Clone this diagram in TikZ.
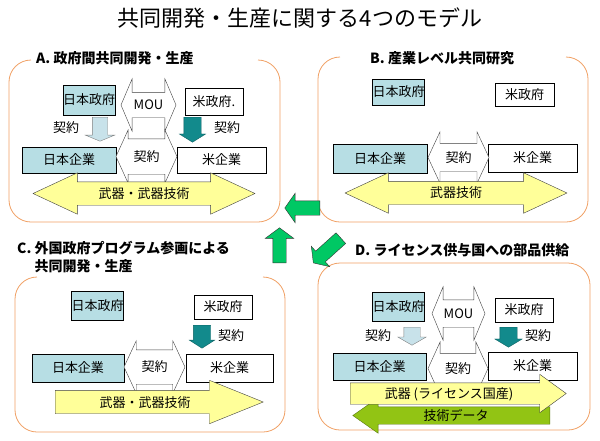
\documentclass[tikz,border=0pt]{standalone}
\usepackage{fontspec}
\setmainfont{Noto Sans CJK JP}
\usetikzlibrary{shapes.arrows}

\definecolor{jpBlue}{RGB}{183,222,228}
\definecolor{lightArrow}{RGB}{200,226,234}
\definecolor{darkTeal}{RGB}{18,138,140}
\definecolor{armsYellow}{RGB}{255,255,153}
\definecolor{techGreen}{RGB}{146,196,20}
\definecolor{panelOrange}{RGB}{240,160,100}
\definecolor{navGreen}{RGB}{0,200,100}

\begin{document}
\begin{tikzpicture}[x=1pt, y=-1pt, font=\fontsize{13pt}{15pt}\selectfont]
		\tikzstyle{jpBox} = [rectangle, draw=black, fill=jpBlue, text centered, inner sep=0pt]
		\tikzstyle{usBox} = [rectangle, draw=black, fill=white, text centered, inner sep=0pt]
		\tikzstyle{panel} = [draw=panelOrange, line width=0.8pt, rounded corners=22pt]
		\tikzstyle{panelTitle} = [anchor=west, inner sep=0pt, font=\bfseries\fontsize{14pt}{18pt}\selectfont]
		\tikzstyle{dblArrow} = [double arrow, draw=black!75, fill=white, inner xsep=0pt]
		\tikzstyle{armsArrow} = [draw=black!75, fill=armsYellow, inner xsep=0pt]
		\tikzstyle{downArrow} = [single arrow, anchor=tail, rotate=-90, inner xsep=0pt]
		\tikzstyle{lightDown} = [downArrow, fill=lightArrow, draw=gray]
		\tikzstyle{darkDown} = [downArrow, fill=darkTeal, draw=darkTeal!70!black]
		\tikzstyle{navArrow} = [single arrow, anchor=tail, draw=black!80, fill=navGreen, inner xsep=0pt, inner ysep=7pt, minimum height=35pt, single arrow head extend=7.5pt, single arrow tip angle=110]
		
		\useasboundingbox (0,0) rectangle (600,440);
		\node (title) [font=\fontsize{22pt}{26pt}\selectfont] at (300,18) {共同開発・生産に関する4つのモデル};
		
		% A
		\draw [panel] (31,60) -- (9,60) -- (9,222) -- (280,222) -- (280,60) -- (258,60);
		\node (titleA) [panelTitle] at (36,58) {A. 政府間共同開発・生産};
		\node (jpGovA) [jpBox, minimum width=52pt, minimum height=30pt] at (89,100) {日本政府};
		\node (usGovA) [usBox, minimum width=58pt, minimum height=27pt] at (214,101.5) {米政府.};
		\node (jpCorpA) [jpBox, minimum width=94pt, minimum height=26pt] at (69,160) {日本企業};
		\node (usCorpA) [usBox, minimum width=89pt, minimum height=26pt] at (221.5,160) {米企業};
		\node (mouA) [dblArrow, minimum height=55pt, inner ysep=12.5pt, double arrow head extend=13.5pt, double arrow tip angle=134] at (148.5,105) {};
		\node (dealA) [dblArrow, minimum height=61pt, inner ysep=17.5pt, double arrow head extend=9pt, double arrow tip angle=131] at (146.5,156.5) {};
		\node (armsA) [armsArrow, double arrow, minimum height=222pt, inner ysep=11.5pt, double arrow head extend=9pt, double arrow tip angle=50] at (144,193.5) {};
		\node (jpDownA) [lightDown, minimum height=24pt, inner ysep=7.5pt, single arrow head extend=7pt, single arrow tip angle=135] at (100,117) {};
		\node (usDownA) [darkDown, minimum height=25pt, inner ysep=8.5pt, single arrow head extend=4.5pt, single arrow tip angle=116] at (192.5,117) {};
		\node (mouTextA) at (mouA) {MOU};
		\node (dealTextA) at (dealA) {契約};
		\node (armsTextA) at (armsA) {武器・武器技術};
		\node (jpDealA) at (66,128) {契約};
		\node (usDealA) at (227,128) {契約};
		
		% B
		\draw [panel] (340,57) -- (318,57) -- (318,222) -- (588,222) -- (588,57) -- (566,57);
		\node (titleB) [panelTitle] at (370,58) {B.\ 産業レベル共同研究};
		\node (jpGovB) [jpBox, minimum width=51pt, minimum height=26pt] at (398.5,92) {日本政府};
		\node (usGovB) [usBox, minimum width=59pt, minimum height=23pt] at (524.5,94.5) {米政府};
		\node (jpCorpB) [jpBox, minimum width=94pt, minimum height=29pt] at (380,158.5) {日本企業};
		\node (usCorpB) [usBox, minimum width=89pt, minimum height=28pt] at (532.5,158) {米企業};
		\node (dealB) [dblArrow, minimum height=61pt, inner ysep=14pt, double arrow head extend=11.5pt, double arrow tip angle=130] at (458.5,157.5) {};
		\node (armsB) [armsArrow, double arrow, minimum height=222pt, inner ysep=11.5pt, double arrow head extend=8.5pt, double arrow tip angle=50] at (456,193) {};
		\node (dealTextB) at (dealB) {契約};
		\node (armsTextB) at (armsB) {武器技術};
		
		% C
		\draw [panel] (37,277) -- (15,277) -- (15,432) -- (285,432) -- (285,277) -- (263,277);
		\node (titleC) [panelTitle, align=left] at (17,257) {C. 外国政府プログラム参画による\\\phantom{C. }共同開発・生産};
		\node (jpGovC) [jpBox, minimum width=51pt, minimum height=29pt] at (97.5,305.5) {日本政府};
		\node (usGovC) [usBox, minimum width=58pt, minimum height=24pt] at (223,307) {米政府};
		\node (jpCorpC) [jpBox, minimum width=92pt, minimum height=28pt] at (78,368) {日本企業};
		\node (usCorpC) [usBox, minimum width=87pt, minimum height=28pt] at (229.5,368) {米企業};
		\node (dealC) [dblArrow, minimum height=61pt, inner ysep=17pt, double arrow head extend=9pt, double arrow tip angle=130] at (154.5,367) {};
		\node (usDownC) [darkDown, minimum height=23pt, inner ysep=8.5pt, single arrow head extend=4pt, single arrow tip angle=115] at (202,325) {};
		\node (armsC) [armsArrow, single arrow, anchor=tail, minimum height=208pt, inner ysep=11.5pt, single arrow head extend=10pt, single arrow tip angle=44] at (55,402) {};
		\node (dealTextC) at (dealC) {契約};
		\node (usDealC) at (231,336) {契約};
		\node (armsTextC) at (145,403) {武器・武器技術};
		
		% D
		\draw [panel] (318,263) rectangle (590,430);
		\node (titleD) [panelTitle] at (355,250) {D. ライセンス供与国への部品供給};
		\node (jpGovD) [jpBox, minimum width=51pt, minimum height=29pt] at (398.5,306.5) {日本政府};
		\node (usGovD) [usBox, minimum width=58pt, minimum height=24pt] at (524,310) {米政府};
		\node (jpCorpD) [jpBox, minimum width=93pt, minimum height=27pt] at (379.5,366.5) {日本企業};
		\node (usCorpD) [usBox, minimum width=89pt, minimum height=28pt] at (532.5,366) {米企業};
		\node (mouD) [dblArrow, minimum height=53pt, inner ysep=13.5pt, double arrow head extend=13pt, double arrow tip angle=135] at (458.5,313.5) {};
		\node (dealD) [dblArrow, minimum height=60pt, inner ysep=15pt, double arrow head extend=11.5pt, double arrow tip angle=131] at (458,368.5) {};
		\node (jpDownD) [lightDown, minimum height=18pt, inner ysep=8pt, single arrow head extend=6pt, single arrow tip angle=120] at (412,327) {};
		\node (usDownD) [darkDown, minimum height=20pt, inner ysep=8.5pt, single arrow head extend=5pt, single arrow tip angle=118] at (508.5,327) {};
		\node (techD) [single arrow, anchor=tail, rotate=180, draw=techGreen!60!black, fill=techGreen, inner xsep=0pt, minimum height=197pt, inner ysep=8.5pt, single arrow head extend=9pt, single arrow tip angle=70] at (550,415.5) {};
		\node (armsD) [armsArrow, single arrow, anchor=tail, minimum height=216pt, inner ysep=10.5pt, single arrow head extend=8.5pt, single arrow tip angle=72] at (350,393.5) {};
		\node (mouTextD) at (mouD) {MOU};
		\node (dealTextD) at (dealD) {契約};
		\node (jpDealD) at (378,336) {契約};
		\node (usDealD) at (538,336) {契約};
		\node (armsTextD) at (449,394) {武器 (ライセンス国産)};
		\node (techTextD) at (456,415.5) {技術データ};
		
		% arrows between the models
		\node (navBA) [navArrow, rotate=180] at (320,208) {};
		\node (navCA) [navArrow, rotate=90, inner ysep=6.5pt, single arrow tip angle=107] at (279.5,263) {};
		\node (navBD) [navArrow, rotate=-138, minimum height=37pt, single arrow head extend=6.5pt] at (341,238) {};
\end{tikzpicture}
\end{document}
